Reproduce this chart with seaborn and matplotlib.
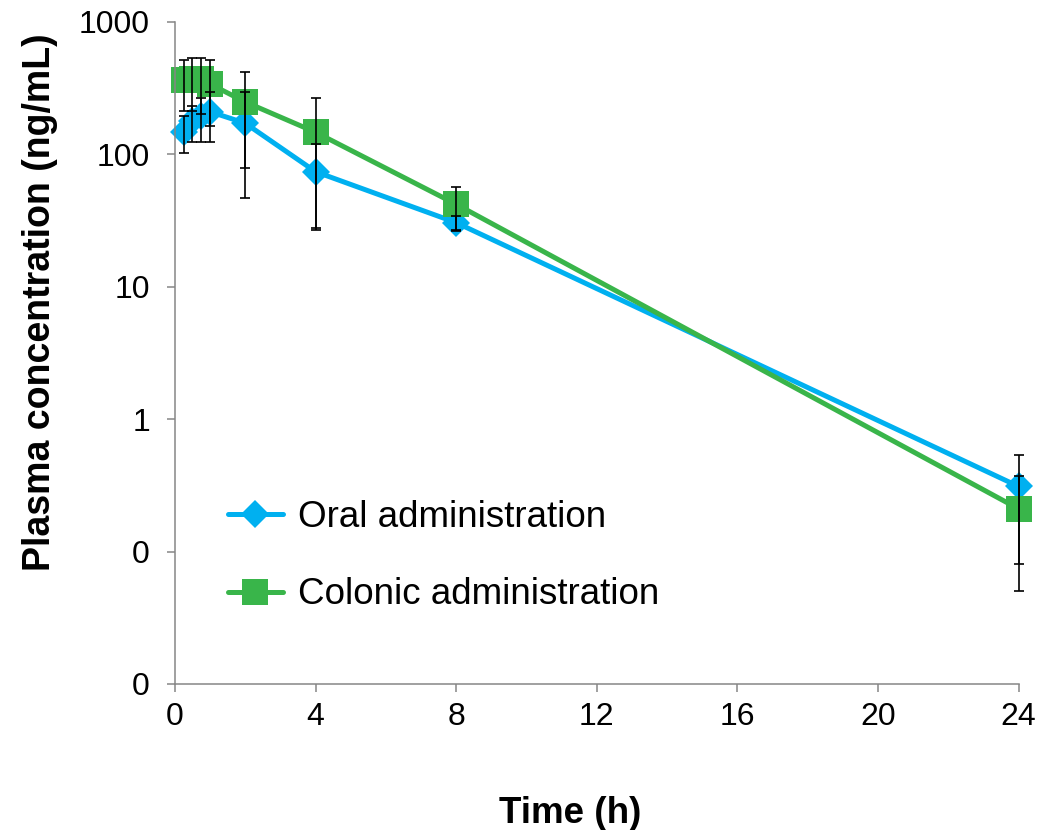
import numpy as np
import pandas as pd
import matplotlib
matplotlib.use('Agg')
import matplotlib.pyplot as plt
import seaborn as sns
from matplotlib.ticker import FixedLocator, FixedFormatter, NullLocator

# Data
time_h      = [0.25, 0.5, 0.75, 1, 2, 4, 8, 24]
oral        = [148, 178, 195, 210, 172, 74, 30.5, 0.31]
oral_sd     = [46, 55, 70, 85, 125, 46, 4, 0.23]
colonic     = [362, 372, 368, 340, 249, 147, 42, 0.21]
colonic_sd  = [150, 160, 165, 175, 170, 120, 15, 0.16]

y_ticks     = [0.01, 0.1, 1, 10, 100, 1000]
y_ticklabs  = ['0', '0', '1', '10', '100', '1000']
x_ticks     = [0, 4, 8, 12, 16, 20, 24]

blue  = '#00B0F0'
green = '#39B54A'
grey  = '#868686'

sns.set_style('white')
plt.rcParams['font.family'] = ['Liberation Sans', 'DejaVu Sans']
plt.rcParams['text.color'] = 'black'
plt.rcParams['axes.labelcolor'] = 'black'

df = pd.DataFrame({
    'time': time_h * 2,
    'conc': oral + colonic,
    'sd': oral_sd + colonic_sd,
    'route': ['Oral administration'] * len(time_h) + ['Colonic administration'] * len(time_h),
})

fig = plt.figure(figsize=(10.6, 8.3), dpi=100)
ax = fig.add_axes([0.165, 0.176, 0.796, 0.7975])

sns.lineplot(data=df, x='time', y='conc', hue='route', style='route',
             palette={'Oral administration': blue, 'Colonic administration': green},
             markers={'Oral administration': 'D', 'Colonic administration': 's'},
             dashes=False, linewidth=3.6, markeredgewidth=0, ax=ax, zorder=2,
             hue_order=['Oral administration', 'Colonic administration'])
# size markers per series, let them overflow the axes
for line in ax.lines:
    line.set_clip_on(False)
    if line.get_marker() == 's':
        line.set_markersize(18.5)
    elif line.get_marker() == 'D':
        line.set_markersize(14)

# error bars on top, like Excel
for name, sub in df.groupby('route'):
    eb = ax.errorbar(sub['time'], sub['conc'], yerr=sub['sd'], fmt='none',
                     ecolor='black', elinewidth=1.2, capsize=3.6, capthick=1.2, zorder=3)
    for art in eb.lines[1] + eb.lines[2]:
        art.set_clip_on(False)

ax.set_yscale('log')
ax.set_ylim(0.01, 1000)
ax.set_xlim(0, 24)
ax.yaxis.set_major_locator(FixedLocator(y_ticks))
ax.yaxis.set_major_formatter(FixedFormatter(y_ticklabs))
ax.yaxis.set_minor_locator(NullLocator())
ax.set_xticks(x_ticks)

for s in ['top', 'right']:
    ax.spines[s].set_visible(False)
for s in ['left', 'bottom']:
    ax.spines[s].set_color(grey)
    ax.spines[s].set_linewidth(1.1)
ax.tick_params(axis='both', which='major', direction='out', length=6, width=1.1,
               color=grey, labelsize=23, labelcolor='black', pad=7)
ax.tick_params(axis='y', left=True, pad=12)
ax.tick_params(axis='x', bottom=True)

ax.set_xlabel('Time (h)', fontsize=26.5, fontweight='bold')
ax.set_ylabel('Plasma concentration (ng/mL)', fontsize=27, fontweight='bold')
ax.xaxis.set_label_coords(0.469, -0.17)
ax.yaxis.set_label_coords(-0.138, 0.577)

handles, labels = ax.get_legend_handles_labels()
ax.legend(handles, labels, loc='upper left', bbox_to_anchor=(0.045, 0.30), frameon=False,
          fontsize=26.5, handlelength=1.5, handletextpad=0.4, labelspacing=1.15,
          borderaxespad=0)

fig.savefig('out.png', dpi=100)
